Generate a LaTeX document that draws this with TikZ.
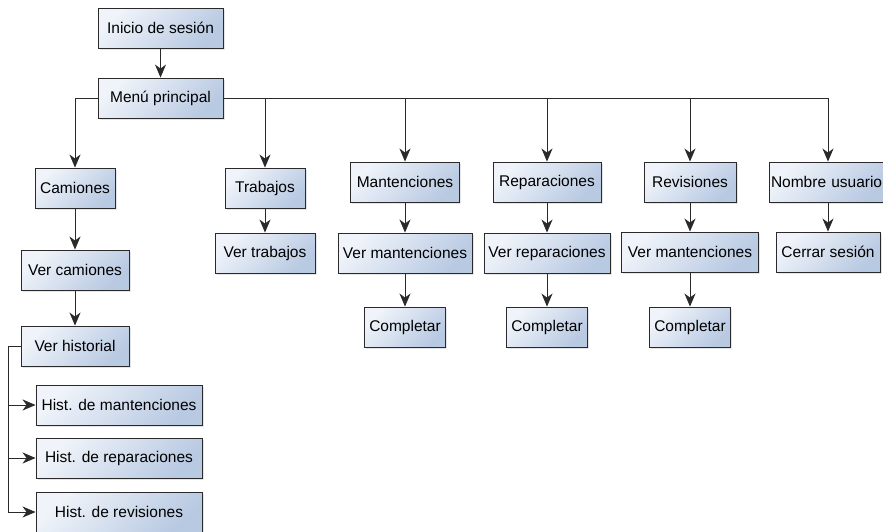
\documentclass[tikz,border=0pt]{standalone}
\usepackage{fontspec}
\setmainfont{Liberation Sans}
\usepackage{tikz}
\usetikzlibrary{arrows.meta,shadows}

\definecolor{cajaclara}{HTML}{F0F4FA}
\definecolor{cajaoscura}{HTML}{B8C9E2}
\definecolor{linea}{HTML}{2A2A2A}

\tikzset{
  caja/.style={draw=linea, line width=0.9pt, top color=cajaclara, bottom color=cajaoscura,
    shading angle=45, minimum height=40pt, inner sep=1pt,
    font=\fontsize{15.5}{18}\selectfont,
    drop shadow={shadow xshift=1.5pt, shadow yshift=-1.5pt, opacity=0.2}},
  flecha/.style={draw=linea, line width=0.9pt, -{Stealth[length=13pt,width=11pt,inset=4pt]}},
  linea/.style={draw=linea, line width=0.9pt}
}

\begin{document}
\begin{tikzpicture}[x=1pt, y=-1pt]
            \useasboundingbox (0,0) rectangle (883,531);
            \fill[white] (0,0) rectangle (883,531);
            \clip (0,0) rectangle (883,531);
            % arriba
            \node[caja, minimum width=125pt] (inicio) at (160.5,28) {Inicio de sesión};
            \node[caja, minimum width=125pt] (menu) at (160.5,98) {Menú principal};
            % camiones
            \node[caja, minimum width=80pt] (camiones) at (75,188) {Camiones};
            \node[caja, minimum width=108pt] (vercamiones) at (75,270) {Ver camiones};
            \node[caja, minimum width=108pt] (verhistorial) at (75,346) {Ver historial};
            \node[caja, minimum width=166pt] (histmant) at (119,405) {Hist. de mantenciones};
            \node[caja, minimum width=166pt] (histrep) at (119,458) {Hist. de reparaciones};
            \node[caja, minimum width=166pt] (histrev) at (119,512) {Hist. de revisiones};
            \coordinate (h) at (8,346);
            % trabajos
            \node[caja, minimum width=80pt] (trabajos) at (265,188) {Trabajos};
            \node[caja, minimum width=100pt] (vertrabajos) at (265,253) {Ver trabajos};
            % mantenciones
            \node[caja, minimum width=109pt] (mant) at (405,182) {Mantenciones};
            \node[caja, minimum width=134pt] (vermant) at (405,253) {Ver mantenciones};
            \node[caja, minimum width=81pt] (compmant) at (405,327) {Completar};
            % reparaciones
            \node[caja, minimum width=108pt] (rep) at (547,182) {Reparaciones};
            \node[caja, minimum width=126pt] (verrep) at (547,253) {Ver reparaciones};
            \node[caja, minimum width=81pt] (comprep) at (547,327) {Completar};
            % revisiones
            \node[caja, minimum width=92pt] (rev) at (690,182) {Revisiones};
            \node[caja, minimum width=137pt] (verrev) at (690,252) {Ver mantenciones};
            \node[caja, minimum width=81pt] (comprev) at (690,327) {Completar};
            % usuario
            \node[caja, text width=114pt, minimum width=118pt, align=left] (usuario) at (828,182) {Nombre usuario};
            \node[caja, minimum width=104pt] (cerrar) at (828,252) {Cerrar sesión};

            \draw[flecha] (inicio) -- (menu);
            \draw[flecha] (menu.west) -| (camiones.north);
            \draw[flecha] (menu.east) -| (trabajos.north);
            \draw[flecha] (menu.east) -| (mant.north);
            \draw[flecha] (menu.east) -| (rep.north);
            \draw[flecha] (menu.east) -| (rev.north);
            \draw[flecha] (menu.east) -| (usuario.north);
            \draw[flecha] (camiones) -- (vercamiones);
            \draw[flecha] (vercamiones) -- (verhistorial);
            \draw[linea] (verhistorial.west) -- (h);
            \draw[flecha] (h) |- (histmant.west);
            \draw[flecha] (h) |- (histrep.west);
            \draw[flecha] (h) |- (histrev.west);
            \draw[flecha] (trabajos) -- (vertrabajos);
            \draw[flecha] (mant) -- (vermant);
            \draw[flecha] (vermant) -- (compmant);
            \draw[flecha] (rep) -- (verrep);
            \draw[flecha] (verrep) -- (comprep);
            \draw[flecha] (rev) -- (verrev);
            \draw[flecha] (verrev) -- (comprev);
            \draw[flecha] (usuario) -- (cerrar);
        \end{tikzpicture}
\end{document}
